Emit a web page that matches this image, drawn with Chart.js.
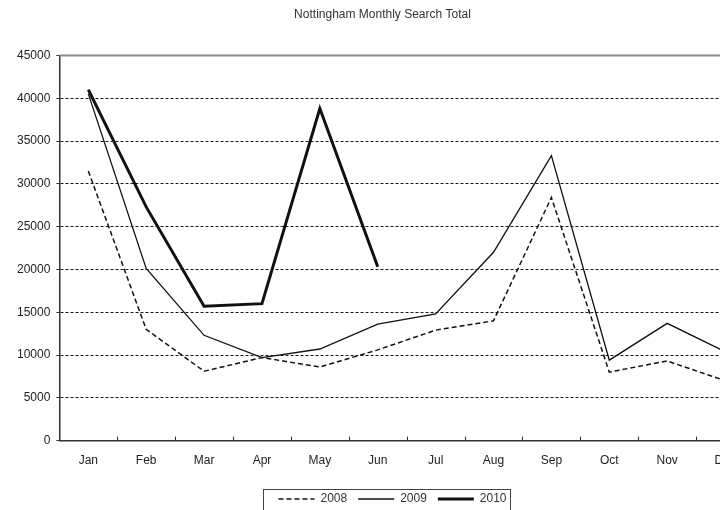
<!DOCTYPE html>
<html>
<head>
<meta charset="utf-8">
<script src="https://cdn.jsdelivr.net/npm/chart.js@4/dist/chart.umd.min.js"></script>
<style>
  html, body { margin: 0; padding: 0; background: #fff; }
  #wrap { width: 720px; height: 510px; overflow: hidden; position: relative; }
  #box { width: 766px; height: 510px; }
</style>
</head>
<body>
<div id="wrap"><div id="box"><canvas id="searchChart"></canvas></div></div>
<script>
const months = ["Jan", "Feb", "Mar", "Apr", "May", "Jun", "Jul", "Aug", "Sep", "Oct", "Nov", "Dec"];

// monthly search totals per year
const y2008 = [31500, 13000, 8100, 9700, 8600, 10600, 12900, 14000, 28400, 8000, 9300, 7000];
const y2009 = [40500, 20100, 12300, 9700, 10700, 13600, 14800, 22000, 33300, 9400, 13700, 10400];
const y2010 = [41000, 27300, 15700, 16000, 38800, 20300, null, null, null, null, null, null];

const yTicks = [0, 5000, 10000, 15000, 20000, 25000, 30000, 35000, 40000, 45000];

const FONT = "'Liberation Sans', Arial, sans-serif";
Chart.defaults.font.family = FONT;
Chart.defaults.font.size = 12;
Chart.defaults.color = '#222';

const LEGEND_SHIFT = 10;

// top border of the plot, small x tick marks, frame round the legend
const extras = {
    id: 'extras',
    afterLayout(chart) {
        // nudge the legend a little to the right
        chart.legend.left += LEGEND_SHIFT;
        chart.legend.right += LEGEND_SHIFT;
    },
    afterDraw(chart) {
        const {ctx, chartArea, scales} = chart;
        const x = scales.x;
        ctx.save();
        ctx.setLineDash([]);
        ctx.strokeStyle = '#8a8a8a';
        ctx.lineWidth = 2;
        ctx.beginPath();
        ctx.moveTo(chartArea.left, chartArea.top);
        ctx.lineTo(chartArea.right, chartArea.top);
        ctx.stroke();

        ctx.strokeStyle = '#333';
        ctx.lineWidth = 1;
        const step = (x.getPixelForValue(1) - x.getPixelForValue(0));
        for (let i = 1; i < months.length; i++) {
            const px = Math.round(x.getPixelForValue(i) - step / 2) + 0.5;
            ctx.beginPath();
            ctx.moveTo(px, chartArea.bottom);
            ctx.lineTo(px, chartArea.bottom - 4);
            ctx.stroke();
        }

        const boxes = chart.legend.legendHitBoxes;
        if (boxes && boxes.length) {
            const l = Math.min(...boxes.map(b => b.left)) - 15;
            const r = Math.max(...boxes.map(b => b.left + b.width)) + 4;
            const cy = boxes[0].top + boxes[0].height / 2;
            ctx.strokeStyle = '#444';
            ctx.lineWidth = 1;
            ctx.strokeRect(Math.round(l) + 0.5, Math.round(cy - 10) + 0.5, Math.round(r - l), 21);
        }
        ctx.restore();
    }
};

const data = {
    labels: months,
    datasets: [
        {
            label: '2008',
            data: y2008,
            borderColor: '#111',
            borderWidth: 1.5,
            borderDash: [5, 3],
            pointRadius: 0,
            tension: 0,
        },
        {
            label: '2009',
            data: y2009,
            borderColor: '#111',
            borderWidth: 1.3,
            pointRadius: 0,
            tension: 0,
        },
        {
            label: '2010',
            data: y2010,
            borderColor: '#111',
            borderWidth: 3,
            pointRadius: 0,
            tension: 0,
            spanGaps: false,
        },
    ],
};

const config = {
    type: 'line',
    data: data,
    options: {
        responsive: true,
        maintainAspectRatio: false,
        animation: false,
        layout: {
            padding: { left: 11, right: 12, top: 0, bottom: -5 }
        },
        plugins: {
            title: {
                display: true,
                text: 'Nottingham Monthly Search Total',
                color: '#333',
                font: { size: 12, weight: 'normal' },
                padding: { top: 7, bottom: 34 }
            },
            legend: {
                position: 'bottom',
                labels: {
                    usePointStyle: true,
                    pointStyle: 'line',
                    pointStyleWidth: 36,
                    boxHeight: 12,
                    padding: 11,
                    color: '#333',
                    font: { size: 12 },
                    // keep each series' own dash pattern in its key
                    generateLabels: (chart) => chart.data.datasets.map((ds, i) => ({
                        text: ds.label,
                        datasetIndex: i,
                        strokeStyle: ds.borderColor,
                        fillStyle: ds.borderColor,
                        lineWidth: ds.borderWidth,
                        lineDash: ds.borderDash || [],
                        pointStyle: 'line',
                        fontColor: '#333',
                        hidden: !chart.isDatasetVisible(i)
                    }))
                }
            },
            tooltip: { enabled: false }
        },
        scales: {
            x: {
                offset: true,
                grid: { display: false, offset: true },
                border: { display: true, color: '#333', width: 1.5 },
                ticks: { padding: 5, color: '#222' },
                afterFit: (scale) => { scale.height += 9; }
            },
            y: {
                min: 0,
                max: 45000,
                afterBuildTicks: (scale) => { scale.ticks = yTicks.map(v => ({ value: v })); },
                grid: {
                    color: (c) => (c.tick && (c.tick.value === 0 || c.tick.value === 45000)) ? 'rgba(0,0,0,0)' : '#1a1a1a',
                    lineWidth: 1,
                    tickLength: 3,
                    tickColor: '#333',
                    tickBorderDash: []
                },
                border: { display: true, color: '#333', width: 1.5, dash: [3, 2] },
                ticks: { padding: 6, color: '#222', callback: (v) => String(v) }
            }
        }
    },
    plugins: [extras]
};

const searchChart = new Chart(document.getElementById('searchChart'), config);
</script>
</body>
</html>
